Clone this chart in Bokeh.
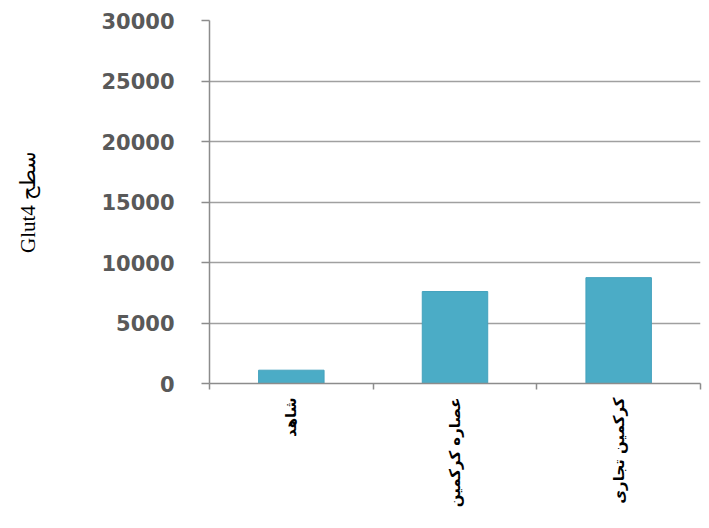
import math
from bokeh.plotting import figure
from bokeh.models import Range1d, FixedTicker
from bokeh.embed import file_html
from bokeh.resources import INLINE

# ---- data ----
categories = ["شاهد", "عصاره کرکمین", "کرکمین تجاری"]
glut4_level = [1100, 7600, 8750]
y_ticks = [0, 5000, 10000, 15000, 20000, 25000, 30000]
y_label = "Glut4 سطح"

GRID = "#a0a0a0"
AXIS = "#8c8c8c"
BAR = "#4bacc6"

# category slots on a numeric axis: centre of slot i is i + 0.5
centers = [i + 0.5 for i in range(len(categories))]
edges = list(range(len(categories) + 1))

p = figure(
    x_range=Range1d(0, len(categories)),
    y_range=Range1d(0, 30000),
    width=702, height=520,
    output_backend="svg", toolbar_location=None,
    min_border_left=209, min_border_right=2,
    min_border_top=20, min_border_bottom=137,
)
p.outline_line_color = None
p.background_fill_color = "white"
p.border_fill_color = "white"

p.vbar(x=centers, top=glut4_level, width=0.4,
       fill_color=BAR, line_color="#44a2bd", line_width=1)

# y axis
ya = p.yaxis[0]
ya.ticker = FixedTicker(ticks=y_ticks)
ya.minor_tick_line_color = None
ya.major_tick_in = 0
ya.major_tick_out = 8
ya.major_tick_line_color = AXIS
ya.major_tick_line_width = 1.5
ya.axis_line_color = AXIS
ya.axis_line_width = 1.5
ya.major_label_text_font = "DejaVu Sans"
ya.major_label_text_font_style = "bold"
ya.major_label_text_font_size = "21px"
ya.major_label_text_color = "#595959"
ya.major_label_standoff = 27
ya.axis_label = y_label
ya.axis_label_text_font = "Liberation Serif"
ya.axis_label_text_font_style = "normal"
ya.axis_label_text_font_size = "21px"
ya.axis_label_text_color = "black"
ya.axis_label_standoff = 58

p.ygrid.ticker = FixedTicker(ticks=y_ticks)
p.ygrid.grid_line_color = GRID
p.ygrid.grid_line_width = 1.5
p.xgrid.visible = False

# x axis: labels at slot centres, small ticks at slot boundaries
xa = p.xaxis[0]
xa.ticker = FixedTicker(ticks=centers, minor_ticks=edges)
xa.major_label_overrides = {c: name for c, name in zip(centers, categories)}
xa.major_tick_line_color = None
xa.major_tick_in = 0
xa.major_tick_out = 0
xa.minor_tick_line_color = AXIS
xa.minor_tick_line_width = 1.5
xa.minor_tick_in = 0
xa.minor_tick_out = 6
xa.axis_line_color = AXIS
xa.axis_line_width = 1.5
xa.major_label_orientation = math.pi / 2
xa.major_label_standoff = 8
xa.major_label_text_font = "DejaVu Sans"
xa.major_label_text_font_style = "bold"
xa.major_label_text_font_size = "15px"
xa.major_label_text_color = "black"

open("out.html", "w").write(file_html(p, INLINE))
